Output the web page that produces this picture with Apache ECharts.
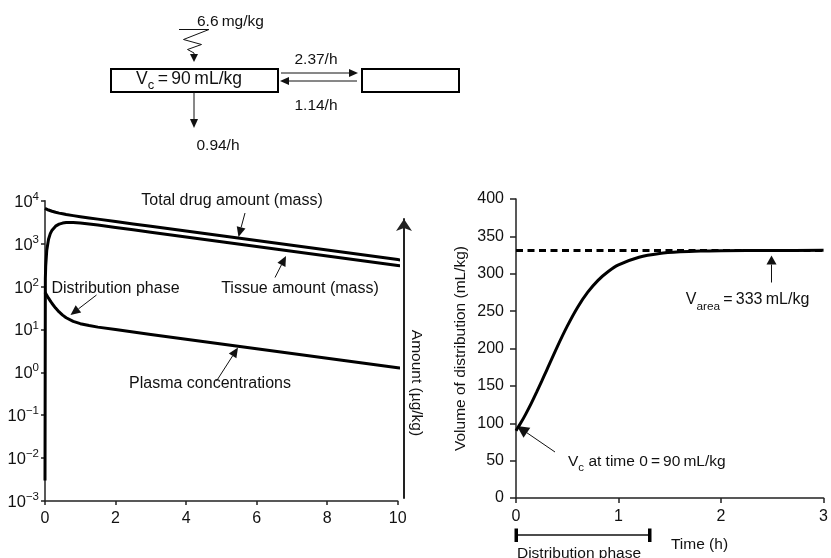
<!DOCTYPE html>
<html>
<head>
<meta charset="utf-8">
<script src="https://cdn.jsdelivr.net/npm/echarts@6/dist/echarts.min.js"></script>
<style>
  html, body { margin: 0; padding: 0; background: #fff; }
  #main { width: 831px; height: 558px; }
</style>
</head>
<body>
<div id="main"></div>
<script>
// left panel: amounts after 6.6 mg/kg IV (log scale)
var timeLeft = [0, 0.01, 0.02, 0.05, 0.1, 0.15, 0.2, 0.3, 0.4, 0.5, 0.6, 0.8, 1, 1.25, 1.5, 2, 2.5, 3, 4, 5, 6, 7, 8, 9, 10, 10.2];
var totalAmount = [6600, 6540, 6482, 6317, 6066, 5859, 5675, 5376, 5137, 4942, 4770, 4484, 4240, 3967, 3717, 3271, 2878, 2534, 1962, 1520, 1177, 912, 706, 547, 424, 403];
var tissueAmount = [0.003, 153, 299, 701, 1260, 1705, 2057, 2550, 2844, 3007, 3086, 3098, 3016, 2864, 2700, 2381, 2096, 1845, 1429, 1107, 857, 664, 514, 398, 309, 293];
var plasmaConc = [73.3, 70.9, 68.7, 62.4, 53.4, 46.2, 40.2, 31.4, 25.5, 21.5, 18.7, 15.4, 13.6, 12.3, 11.3, 9.89, 8.69, 7.65, 5.92, 4.59, 3.55, 2.75, 2.13, 1.65, 1.28, 1.22];

// right panel: volume of distribution vs time
var timeRight = [0, 0.05, 0.1, 0.15, 0.2, 0.25, 0.3, 0.4, 0.5, 0.6, 0.7, 0.8, 0.9, 1.0, 1.2, 1.4, 1.6, 1.8, 2.0, 2.5, 3.0];
var volumeDist = [90, 101.2, 113.6, 126.9, 141.2, 156.0, 171.2, 201.6, 229.9, 254.9, 275.3, 291.2, 303.0, 311.8, 322.0, 327.0, 329.3, 330.4, 330.8, 331.2, 331.3];
var vArea = 331;

var FONT = 'Liberation Sans';
var INK = '#111';

function pairs(xs, ys) {
    var out = [];
    for (var i = 0; i < xs.length; i++) out.push([xs[i], ys[i]]);
    return out;
}

// line with filled head, tip at (x2, y2)
function arrow(x1, y1, x2, y2, hw, hl, lw) {
    var dx = x2 - x1, dy = y2 - y1;
    var len = Math.sqrt(dx * dx + dy * dy);
    var ux = dx / len, uy = dy / len;
    var bx = x2 - ux * hl, by = y2 - uy * hl;
    return [{
        type: 'line', silent: true,
        shape: { x1: x1, y1: y1, x2: bx, y2: by },
        style: { stroke: INK, lineWidth: lw || 1 }
    }, {
        type: 'polygon', silent: true,
        shape: { points: [[x2, y2], [bx - uy * hw, by + ux * hw], [bx + uy * hw, by - ux * hw]] },
        style: { fill: INK }
    }];
}

function text(x, y, str, opts) {
    opts = opts || {};
    return {
        type: 'text', silent: true, x: x, y: y, rotation: opts.rotation || 0,
        style: {
            text: str, fill: INK, fontFamily: FONT, fontSize: opts.size || 15.5,
            align: opts.align || 'center', textAlign: opts.align || 'center',
            verticalAlign: 'middle', textVerticalAlign: 'middle',
            rich: opts.rich
        }
    };
}

function subRich(size) {
    return {
        a: { fontFamily: FONT, fontSize: size, lineHeight: size + 4.5, verticalAlign: 'top', fill: INK },
        s: { fontFamily: FONT, fontSize: size * 0.74, lineHeight: size * 0.78, verticalAlign: 'bottom', fill: INK }
    };
}

var g = [];
// compartment diagram
g.push(text(197, 22, '6.6\u2009mg/kg', { align: 'left' }));
g.push({
    type: 'polyline', silent: true,
    shape: { points: [[179, 29.5], [209, 29.5], [183.5, 39.5], [201.5, 44.5], [187.5, 49.5], [194, 53]] },
    style: { stroke: INK, lineWidth: 1, fill: null }
});
g = g.concat(arrow(194, 53, 194, 62, 4, 8, 1));
g.push({ type: 'rect', silent: true, shape: { x: 111, y: 69, width: 167, height: 23 }, style: { fill: 'none', stroke: '#000', lineWidth: 2 } });
g.push({ type: 'rect', silent: true, shape: { x: 362, y: 69, width: 97, height: 23 }, style: { fill: 'none', stroke: '#000', lineWidth: 2 } });
g.push(text(189, 81, '{a|V}{s|c}{a|\u2009=\u200990\u2009mL/kg}', { rich: subRich(17.5) }));
g = g.concat(arrow(281, 73, 358, 73, 4, 9, 1));
g = g.concat(arrow(357, 81, 280, 81, 4, 9, 1));
g.push(text(316, 60, '2.37/h'));
g.push(text(316, 106, '1.14/h'));
g = g.concat(arrow(194, 92, 194, 128, 4, 9, 1));
g.push(text(218, 146, '0.94/h'));

// left panel notes
g.push(text(232, 201, 'Total drug amount (mass)', { size: 16 }));
g = g.concat(arrow(245, 213, 238.5, 237, 4.5, 10, 1));
g.push(text(300, 288.5, 'Tissue amount (mass)', { size: 16 }));
g = g.concat(arrow(275, 277.5, 286, 256, 4.5, 10, 1));
g.push(text(115.5, 288.5, 'Distribution phase', { size: 16 }));
g = g.concat(arrow(96.5, 295, 70.5, 315, 4.5, 10, 1));
g.push(text(210, 383.5, 'Plasma concentrations', { size: 16 }));
g = g.concat(arrow(216.5, 381, 238, 347.5, 4.5, 10, 1));
g.push(text(416.5, 383, 'Amount (\u00b5g/kg)', { rotation: -Math.PI / 2 }));

// right panel notes
g.push(text(461, 348.5, 'Volume of distribution (mL/kg)', { rotation: Math.PI / 2 }));
g.push(text(747.5, 302, '{a|V}{s|area}{a|\u2009=\u2009333\u2009mL/kg}', { rich: subRich(16) }));
g = g.concat(arrow(771.5, 282.5, 771.5, 255.5, 5, 9, 1));
g.push(text(568, 463.5, '{a|V}{s|c}{a| at time 0\u2009=\u200990\u2009mL/kg}', { align: 'left', rich: subRich(15.5) }));
g = g.concat(arrow(555, 452, 517, 426, 6, 12, 1));
g.push(text(699.5, 545, 'Time (h)'));
g.push({ type: 'line', silent: true, shape: { x1: 516, y1: 535, x2: 650, y2: 535 }, style: { stroke: INK, lineWidth: 1.3 } });
g.push({ type: 'rect', silent: true, shape: { x: 514.5, y: 528.5, width: 3.5, height: 13.5 }, style: { fill: '#000' } });
g.push({ type: 'rect', silent: true, shape: { x: 648, y: 528.5, width: 3.5, height: 13.5 }, style: { fill: '#000' } });
g.push(text(579, 554, 'Distribution phase'));

var axisLineStyle = { color: '#222', width: 1.5 };
var tickLabel = { color: INK, fontFamily: FONT, fontSize: 16 };

var chart = echarts.init(document.getElementById('main'), null, { renderer: 'canvas' });
chart.setOption({
    animation: false,
    backgroundColor: '#fff',
    grid: [
        { left: 45, top: 200.7, width: 352.7, height: 300.3 },
        { left: 404, top: 219, width: 1, height: 279 },
        { left: 516, top: 199, width: 313, height: 299 }
    ],
    xAxis: [{
        gridIndex: 0, type: 'value', min: 0, max: 10, interval: 2,
        axisLine: { lineStyle: axisLineStyle },
        axisTick: { length: 4, lineStyle: axisLineStyle },
        axisLabel: Object.assign({ margin: 10 }, tickLabel),
        splitLine: { show: false }
    }, {
        gridIndex: 1, type: 'value', show: false
    }, {
        gridIndex: 2, type: 'value', min: 0, max: 3, interval: 1,
        axisLine: { lineStyle: axisLineStyle },
        axisTick: { length: 5, lineStyle: axisLineStyle },
        axisLabel: Object.assign({ margin: 11, showMaxLabel: true }, tickLabel),
        splitLine: { show: false }
    }],
    yAxis: [{
        gridIndex: 0, type: 'log', logBase: 10, min: 0.001, max: 10000, splitNumber: 7,
        axisLine: { lineStyle: axisLineStyle },
        axisTick: { length: 4, lineStyle: axisLineStyle },
        axisLabel: {
            margin: 6,
            formatter: function (v) {
                var e = Math.round(Math.log(v) / Math.LN10);
                return '{b|10}{e|' + String(e).replace('-', '\u2212') + '}';
            },
            rich: {
                b: { color: INK, fontFamily: FONT, fontSize: 16.5, lineHeight: 20, verticalAlign: 'bottom' },
                e: { color: INK, fontFamily: FONT, fontSize: 11.5, lineHeight: 11, verticalAlign: 'top' }
            }
        },
        splitLine: { show: false }
    }, {
        gridIndex: 1, type: 'value', min: 0, max: 1,
        axisLine: { show: true, symbol: ['none', 'arrow'], symbolSize: [12, 12], lineStyle: { color: '#222', width: 2 } },
        axisTick: { show: false },
        axisLabel: { show: false },
        splitLine: { show: false }
    }, {
        gridIndex: 2, type: 'value', min: 0, max: 400, interval: 50,
        axisLine: { lineStyle: axisLineStyle },
        axisTick: { length: 6, lineStyle: axisLineStyle },
        axisLabel: Object.assign({ margin: 12 }, tickLabel),
        splitLine: { show: false }
    }],
    series: [{
        name: 'Total drug amount', type: 'line', xAxisIndex: 0, yAxisIndex: 0,
        data: pairs(timeLeft, totalAmount), showSymbol: false, clip: false,
        lineStyle: { color: '#000', width: 3, join: 'round' }
    }, {
        name: 'Tissue amount', type: 'line', xAxisIndex: 0, yAxisIndex: 0,
        data: pairs(timeLeft, tissueAmount), showSymbol: false, clip: false,
        lineStyle: { color: '#000', width: 3, join: 'round' }
    }, {
        name: 'Plasma concentrations', type: 'line', xAxisIndex: 0, yAxisIndex: 0,
        data: pairs(timeLeft, plasmaConc), showSymbol: false, clip: false,
        lineStyle: { color: '#000', width: 3, join: 'round' }
    }, {
        name: 'Volume of distribution', type: 'line', xAxisIndex: 2, yAxisIndex: 2,
        data: pairs(timeRight, volumeDist), showSymbol: false, smooth: 0.3, clip: false,
        lineStyle: { color: '#000', width: 3 },
        markLine: {
            silent: true, symbol: ['none', 'none'], label: { show: false },
            lineStyle: { color: '#000', width: 3, type: [7, 4.5] },
            data: [{ yAxis: vArea }]
        }
    }],
    graphic: { elements: g }
});
</script>
</body>
</html>
